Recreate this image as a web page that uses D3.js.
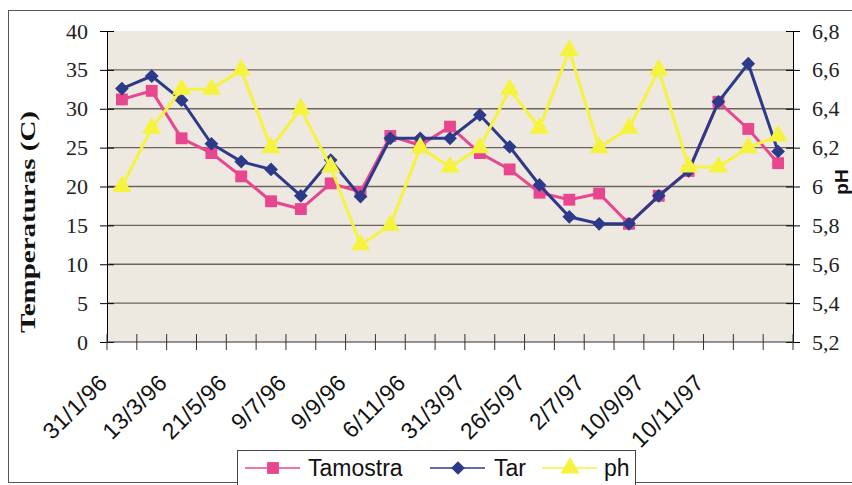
<!DOCTYPE html>
<meta charset="utf-8">
<style>
  body { margin: 0; background: #fff; }
  svg { display: block; }
</style>
<body>
<script src="https://cdn.jsdelivr.net/npm/d3@7"></script>
<script>

// x categories (every second sample date is labelled)
var dates = ["31/1/96","","13/3/96","","21/5/96","","9/7/96","","9/9/96","","6/11/96","",
             "31/3/97","","26/5/97","","2/7/97","","10/9/97","","10/11/97","",""];

var tamostra = [31.2,32.3,26.2,24.3,21.3,18.1,17.1,20.4,19.3,26.5,25.3,27.7,
                24.3,22.2,19.2,18.3,19.1,15.2,18.8,22.0,30.9,27.4,23.0];
var tar      = [32.6,34.2,31.1,25.5,23.2,22.2,18.8,23.4,18.7,26.2,26.2,26.2,
                29.2,25.1,20.2,16.1,15.2,15.2,18.8,22.0,30.9,35.8,24.5];
var ph       = [6.0,6.3,6.5,6.5,6.6,6.2,6.4,6.1,5.7,5.8,6.2,6.1,
                6.2,6.5,6.3,6.7,6.2,6.3,6.6,6.1,6.1,6.2,6.26];

var tempTicks = [0,5,10,15,20,25,30,35,40];
var phTicks = [5.2,5.4,5.6,5.8,6,6.2,6.4,6.6,6.8];

var width = 852, height = 485;
var plotL = 107, plotR = 793, plotT = 31, plotB = 342;

var pink = "#e8468f", navy = "#2d3a8a", yellow = "#f5f33e";

var svg = d3.select("body").append("svg")
    .attr("width", width)
    .attr("height", height);

// outer frame
svg.append("rect")
    .attr("x", 8.5).attr("y", 10.5)
    .attr("width", 860).attr("height", 472)
    .attr("fill", "none")
    .attr("stroke", "#555").attr("stroke-width", 1);

var x = d3.scaleBand()
    .domain(d3.range(dates.length))
    .range([plotL, plotR]);

var y = d3.scaleLinear().domain([0, 40]).range([plotB, plotT]);
var y2 = d3.scaleLinear().domain([5.2, 6.8]).range([plotB, plotT]);

function cx(i) { return x(i) + x.bandwidth() / 2; }

// plot area
svg.append("rect")
    .attr("x", plotL).attr("y", plotT)
    .attr("width", plotR - plotL).attr("height", plotB - plotT)
    .attr("fill", "#ede8e0");

// grid
svg.append("g")
    .selectAll("line")
    .data(tempTicks.filter(function(d) { return d > 0 && d < 40; }))
    .enter().append("line")
      .attr("x1", plotL).attr("x2", plotR)
      .attr("y1", function(d) { return y(d); })
      .attr("y2", function(d) { return y(d); })
      .attr("stroke", "#6a645d").attr("stroke-width", 1.3);

// left axis
var yAxis = svg.append("g")
    .attr("transform", "translate(" + plotL + ",0)")
    .call(d3.axisLeft(y).tickValues(tempTicks).tickSizeInner(7).tickSizeOuter(0).tickPadding(12));
yAxis.selectAll(".tick line").attr("x2", -7).attr("x1", 7);
yAxis.selectAll("text")
    .attr("font-family", "Liberation Serif, Times New Roman, serif")
    .attr("font-size", 22).attr("fill", "#222");

// right axis
var y2Axis = svg.append("g")
    .attr("transform", "translate(" + plotR + ",0)")
    .call(d3.axisRight(y2).tickValues(phTicks).tickSizeInner(7).tickSizeOuter(0).tickPadding(12)
      .tickFormat(function(d) { return d3.format("~g")(d).replace(".", ","); }));
y2Axis.selectAll(".tick line").attr("x1", -7).attr("x2", 7);
y2Axis.selectAll("text")
    .attr("font-family", "Liberation Serif, Times New Roman, serif")
    .attr("font-size", 22).attr("fill", "#222");

// x axis with ticks on band edges
var xg = svg.append("g");
xg.append("line")
    .attr("x1", plotL).attr("x2", plotR)
    .attr("y1", plotB).attr("y2", plotB)
    .attr("stroke", "#333");
xg.selectAll(".tk")
    .data(d3.range(dates.length + 1))
    .enter().append("line")
      .attr("x1", function(i) { return plotL + i * x.step(); })
      .attr("x2", function(i) { return plotL + i * x.step(); })
      .attr("y1", plotB - 8).attr("y2", plotB + 8)
      .attr("stroke", "#333");
xg.selectAll("text")
    .data(dates.map(function(d, i) { return { label: d, i: i }; }).filter(function(d) { return d.label; }))
    .enter().append("text")
      .attr("transform", function(d) { return "translate(" + (x(d.i) + 2) + "," + 384 + ") rotate(-45)"; })
      .attr("text-anchor", "end")
      .attr("font-family", "Liberation Sans, Arial, sans-serif")
      .attr("font-size", 23)
      .attr("letter-spacing", 0.5)
      .attr("fill", "#111")
      .text(function(d) { return d.label; });

// axis titles
svg.append("text")
    .attr("transform", "translate(35,222) rotate(-90)")
    .attr("text-anchor", "middle")
    .attr("font-family", "Liberation Serif, Times New Roman, serif")
    .attr("font-weight", "bold")
    .attr("font-size", 22)
    .attr("textLength", 222)
    .attr("lengthAdjust", "spacingAndGlyphs")
    .attr("fill", "#111")
    .text("Temperaturas (C)");

svg.append("text")
    .attr("transform", "translate(848,182) rotate(-90)")
    .attr("text-anchor", "middle")
    .attr("font-family", "Liberation Sans, Arial, sans-serif")
    .attr("font-weight", "bold")
    .attr("font-size", 19)
    .attr("fill", "#111")
    .text("pH");

// series
var series = [
  { name: "Tamostra", values: tamostra, scale: y, color: pink, symbol: d3.symbolSquare, size: 140 },
  { name: "Tar", values: tar, scale: y, color: navy, symbol: d3.symbolDiamond2, size: 120 },
  { name: "ph", values: ph, scale: y2, color: yellow, symbol: d3.symbolTriangle, size: 160 }
];

series.forEach(function(s) {
  var line = d3.line()
      .x(function(d, i) { return cx(i); })
      .y(function(d) { return s.scale(d); });
  svg.append("path")
      .datum(s.values)
      .attr("fill", "none")
      .attr("stroke", s.color)
      .attr("stroke-width", 3)
      .attr("d", line);
  svg.append("g")
    .selectAll("path")
    .data(s.values)
    .enter().append("path")
      .attr("transform", function(d, i) { return "translate(" + cx(i) + "," + s.scale(d) + ")"; })
      .attr("d", d3.symbol().type(s.symbol).size(s.size))
      .attr("fill", s.color);
});

// legend
var lg = svg.append("g");
lg.append("rect")
    .attr("x", 237.5).attr("y", 450.5)
    .attr("width", 398).attr("height", 40)
    .attr("fill", "#fff")
    .attr("stroke", "#444");

var legendItems = [
  { s: series[0], x: 245, tx: 308 },
  { s: series[1], x: 430, tx: 494 },
  { s: series[2], x: 542, tx: 604 }
];
legendItems.forEach(function(d) {
  lg.append("line")
      .attr("x1", d.x).attr("x2", d.x + 55)
      .attr("y1", 468).attr("y2", 468)
      .attr("stroke", d.s.color).attr("stroke-width", 1.5);
  lg.append("path")
      .attr("transform", "translate(" + (d.x + 28) + ",468)")
      .attr("d", d3.symbol().type(d.s.symbol).size(d.s.size))
      .attr("fill", d.s.color);
  lg.append("text")
      .attr("x", d.tx).attr("y", 476)
      .attr("font-family", "Liberation Sans, Arial, sans-serif")
      .attr("font-size", 23)
      .attr("fill", "#111")
      .text(d.s.name);
});

</script>
</body>
